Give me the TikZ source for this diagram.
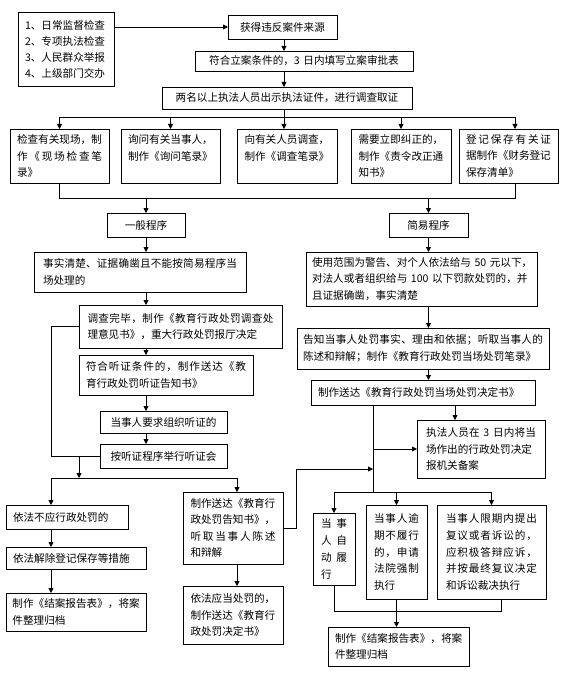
\documentclass[tikz,border=0pt]{standalone}
\usepackage{fontspec}
\setmainfont{Noto Sans CJK SC}
\usetikzlibrary{arrows.meta}
\makeatletter
\def\sp@read#1{#1\futurelet\sp@next\sp@check}
\def\sp@check{\ifx\sp@next\relax\expandafter\@gobble\else\hfil\expandafter\sp@read\fi}
\newcommand\jl[1]{\leavevmode\hbox to \hsize{\sp@read#1\relax}}
\makeatother
\tikzset{
  box/.style={draw, line width=0.8pt, align=left, inner ysep=0pt, outer sep=0pt,
    anchor=north west, font=\fontsize{10.6}{16.6}\selectfont},
  arr/.style={-{Triangle[length=5pt,width=5pt]}, line width=0.8pt},
  ln/.style={line width=0.8pt}
}
\newcommand\bx[8][]{%
  \pgfmathsetlengthmacro\bxsep{(#5-#3-#7)/2}%
  \pgfmathsetlengthmacro\bxh{#6-#4}%
  \node[box, inner xsep=\bxsep, text width=#7pt, minimum height=\bxh, #1] (#2) at (#3,#4) {#8};}
\begin{document}
\begin{tikzpicture}[x=1pt,y=-1pt]
\fill[white] (0,0) rectangle (569,690);
\useasboundingbox (0,0) rectangle (569,690);

\bx[font=\fontsize{10.6}{16}\selectfont]{src}{18}{12}{114}{86}{82}{1、日常监督检查\\2、专项执法检查\\3、人民群众举报\\4、上级部门交办}
\bx[align=center]{get}{228}{15}{337}{39}{95}{获得违反案件来源}
\bx[align=center]{reg}{195}{51}{413}{71}{204}{符合立案条件的，3~日内填写立案审批表}
\bx[align=center]{inv}{162}{87}{412}{109}{236}{两名以上执法人员出示执法证件，进行调查取证}

\bx{b1}{10}{129}{109}{183}{85}{检查有关现场，制\\\jl{作《现场检查笔}\\录》}
\bx{b2}{121}{129}{220}{183}{85}{询问有关当事人，\\制作《询问笔录》\\\phantom{制}}
\bx{b3}{237}{129}{337}{183}{85}{向有关人员调查，\\制作《调查笔录》\\\phantom{制}}
\bx{b4}{351}{129}{451}{183}{85}{需要立即纠正的，\\制作《责令改正通\\知书》}
\bx{b5}{459}{129}{558}{183}{85}{\jl{登记保存有关证}\\据制作《财务登记\\保存清单》}

\bx[align=center]{gen}{107}{213}{185}{237}{60}{一般程序}
\bx[align=center]{simp}{389}{213}{468}{237}{60}{简易程序}

\bx{fact}{34}{252}{246}{292}{194}{\jl{事实清楚、证据确凿且不能按简易程序当}\\场处理的}
\bx{scope}{306}{252}{537}{306}{219}{使用范围为警告、对个人依法给与~50~元以下，\\对法人或者组织给与~100~以下罚款处罚的，并\\且证据确凿，事实清楚}
\bx{chk}{79}{305}{282}{348}{186}{\jl{调查完毕，制作《教育行政处罚调查处}\\理意见书》，重大行政处罚报厅决定}
\bx{tell}{297}{328}{549}{369}{240}{\jl{告知当事人处罚事实、理由和依据；听取当事人的}\\陈述和辩解；制作《教育行政处罚当场处罚笔录》}
\bx{hear}{79}{355}{253}{395}{160}{\jl{符合听证条件的，制作送达《教}\\育行政处罚听证告知书》}
\bx{sd}{311}{380}{535}{405}{210}{制作送达《教育行政处罚当场处罚决定书》}
\bx[align=center]{req}{100}{411}{227}{433}{113}{当事人要求组织听证的}
\bx{exec}{417}{420}{545}{478}{110}{\jl{执法人员在\ 3\ 日内将当}\\场作出的行政处罚决定\\报机关备案}
\bx[align=center]{meet}{100}{444}{227}{468}{113}{按听证程序举行听证会}

\bx{no}{6}{505}{128}{529}{108}{依法不应行政处罚的}
\bx{notice}{183}{492}{283}{564}{85}{制作送达《教育行\\政处罚告知书》，\\\jl{听取当事人陈述}\\和辩解}
\bx[font=\fontsize{10.6}{17}\selectfont]{auto}{313}{513}{355}{585}{26}{\jl{当事}\\\jl{人自}\\\jl{动履}\\行}
\bx{overdue}{366}{505}{427}{599}{45}{\jl{当事人逾}\\\jl{期不履行}\\\jl{的，申请}\\\jl{法院强制}\\执行}
\bx{appeal}{437}{505}{546}{599}{91}{\jl{当事人限期内提出}\\\jl{复议或者诉讼的，}\\\jl{应积极答辩应诉，}\\\jl{并按最终复议决定}\\和诉讼裁决执行}
\bx{release}{6}{547}{146}{569}{126}{依法解除登记保存等措施}
\bx{decide}{183}{586}{283}{644}{85}{依法应当处罚的，\\制作送达《教育行\\政处罚决定书》}
\bx{close1}{6}{593}{146}{631}{127}{制作《结案报告表》，将案\\件整理归档}
\bx{close2}{328}{627}{469}{666}{127}{制作《结案报告表》，将案\\件整理归档}

% helper coordinates
\coordinate (mc) at (284,0);
\coordinate (bus1) at (284,117);
\coordinate (bus2) at (0,198);
\coordinate (bus3) at (51,478);
\coordinate (nx) at (237,0);
\coordinate (j4) at (373,469);
\coordinate (bus4) at (373,492);
\coordinate (ex) at (455,0);
\coordinate (bot) at (0,611);

% top
\draw[arr] (get.west -| src.east) -- (get.west);
\draw[arr] (get.south -| mc) -- (reg.north -| mc);
\draw[arr] (reg.south -| mc) -- (inv.north -| mc);
\draw[ln] (inv.south -| mc) -- (bus1);
\draw[ln] (b1.north |- bus1) -- ([xshift=6.5pt]b5.north |- bus1);
\draw[arr] (b1.north |- bus1) -- (b1.north);
\draw[arr] (b2.north |- bus1) -- (b2.north);
\draw[arr] (bus1) -- (mc |- b3.north);
\draw[arr] (b4.north |- bus1) -- (b4.north);
\draw[arr] ([xshift=6.5pt]b5.north |- bus1) -- ([xshift=6.5pt]b5.north);

% second bus
\draw[ln] (b1.south) -- (b1.south |- bus2) -- ([xshift=6.5pt]b5.south |- bus2) -- ([xshift=6.5pt]b5.south);
\draw[arr] (gen.north |- bus2) -- (gen.north);
\draw[arr] (simp.north |- bus2) -- (simp.north);

% general procedure
\draw[arr] (gen.south) -- (fact.north -| gen.south);
\draw[arr] (fact.south -| gen.south) -- (chk.north -| gen.south);
\draw[arr] (chk.south -| gen.south) -- (hear.north -| gen.south);
\draw[arr] (hear.south -| gen.south) -- (req.north -| gen.south);
\draw[arr] (req.south -| gen.south) -- (meet.north -| gen.south);
\draw[ln] (chk.west) -| (bus3 |- meet.west) -- (meet.west);
\draw[arr] (chk.west |- meet.west) -- (chk.west |- bus3);
\draw[ln] (bus3) -- (nx |- bus3);
\draw[arr] (bus3) -- (bus3 |- no.north);
\draw[arr] (nx |- bus3) -- (nx |- notice.north);
\draw[arr] (no.south -| bus3) -- (release.north -| bus3);
\draw[arr] (release.south -| bus3) -- (close1.north -| bus3);
\draw[arr] (notice.south -| nx) -- (decide.north -| nx);
\draw[arr] (notice.east) -- ++(13,0) |- (j4);

% simple procedure
\draw[arr] (simp.south) -- (scope.north -| simp.south);
\draw[arr] (scope.south -| simp.south) -- (tell.north -| simp.south);
\draw[arr] (tell.south -| simp.south) -- (sd.north -| simp.south);
\draw[ln] (sd.south -| bus4) -- (bus4);
\draw[arr] (sd.south -| ex) -- (ex |- exec.north);
\draw[arr] (exec.west -| bus4) -- (exec.west);
\draw[ln] (auto.north |- bus4) -- (appeal.north |- bus4);
\draw[arr] (auto.north |- bus4) -- (auto.north);
\draw[arr] (overdue.north |- bus4) -- (overdue.north);
\draw[arr] (appeal.north |- bus4) -- (appeal.north);
\draw[ln] (auto.south) -- (auto.south |- bot) -| ([xshift=9.5pt]appeal.south);
\draw[arr] (overdue.south) -- (close2.north -| overdue.south);
\end{tikzpicture}
\end{document}
